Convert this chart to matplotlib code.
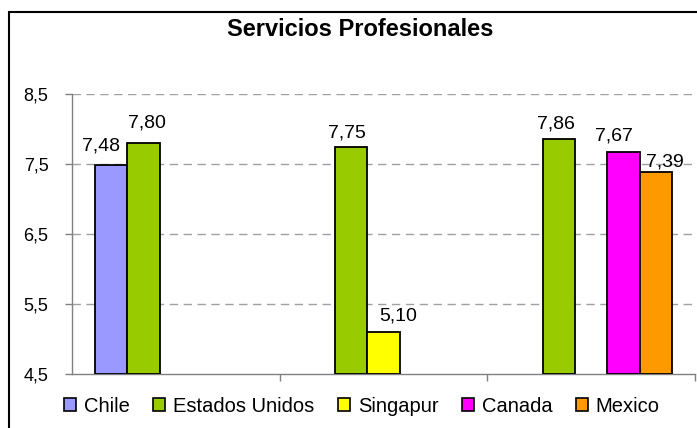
import numpy as np
import matplotlib
matplotlib.use('Agg')
import matplotlib.pyplot as plt
from matplotlib.patches import Patch, Rectangle

plt.rcParams['font.family'] = ['Liberation Sans', 'DejaVu Sans']

# data (NaN = no bar)
countries = ['Chile', 'Estados Unidos', 'Singapur', 'Canada', 'Mexico']
colors = ['#9999FF', '#99CC00', '#FFFF00', '#FF00FF', '#FF9900']
chile = [7.48, np.nan, np.nan]
estados_unidos = [7.80, 7.75, 7.86]
singapur = [np.nan, 5.10, np.nan]
canada = [np.nan, np.nan, 7.67]
mexico = [np.nan, np.nan, 7.39]
series = [chile, estados_unidos, singapur, canada, mexico]
yticks = [4.5, 5.5, 6.5, 7.5, 8.5]

# label nudges in pixels (series, group) -> (dx, dy), like Excel's placement
label_nudge = {(0, 0): (-10, 15), (1, 0): (4, 16), (1, 1): (-4, 9),
               (2, 1): (15, 12), (1, 2): (-3, 10), (3, 2): (-10, 12),
               (4, 2): (9, 5)}

W, H = 697, 428
fig = plt.figure(figsize=(W / 100, H / 100), dpi=100)
ax = fig.add_axes([72 / W, 1 - 374 / H, (695 - 72) / W, (374 - 94) / H])

# outer chart border
fig.patches.append(Rectangle((9 / W, -0.1), 1.2, 1 - 12 / H + 0.1,
                             transform=fig.transFigure, fill=False,
                             edgecolor='black', linewidth=1.5))

x = np.arange(3)
w = 0.156
for i, (vals, c) in enumerate(zip(series, colors)):
    pos = x + (i - 2) * w
    for g, (p, v) in enumerate(zip(pos, vals)):
        if np.isnan(v):
            continue
        ax.bar(p, v - 4.5, bottom=4.5, width=w, color=c, edgecolor='black',
               linewidth=1.3, zorder=3)
        dx, dy = label_nudge.get((i, g), (0, 10))
        ax.annotate(f'{v:.2f}'.replace('.', ','), (p, v), xytext=(dx * 0.72, dy * 0.72),
                    textcoords='offset points', ha='center', va='baseline',
                    fontsize=14)

ax.set_xlim(-0.5, 2.5)
ax.set_ylim(4.5, 8.5)
ax.set_yticks(yticks)
ax.set_yticklabels([str(t).replace('.', ',') for t in yticks], fontsize=13)
ax.set_xticks([0.5, 1.5, 2.5])
ax.set_xticklabels([])
ax.tick_params(axis='both', direction='out', length=5, color='#808080', width=1)
ax.tick_params(axis='y', pad=12)

for s in ['top', 'right']:
    ax.spines[s].set_visible(False)
for s in ['left', 'bottom']:
    ax.spines[s].set_color('#808080')
    ax.spines[s].set_linewidth(1)

for t in yticks[1:]:
    ax.axhline(t, color='#A0A0A0', linestyle=(0, (6, 4)), linewidth=1, zorder=1)

fig.text(360 / W, 1 - 30 / H, 'Servicios Profesionales', ha='center', va='center',
         fontsize=17, fontweight='bold')

handles = [Patch(facecolor=c, edgecolor='black', linewidth=1.2) for c in colors]
fig.legend(handles, countries, loc='center', bbox_to_anchor=(362 / W, 1 - 406 / H),
           ncol=5, frameon=False, fontsize=14.5, handlelength=0.6, handleheight=0.6,
           handletextpad=0.4, columnspacing=1.15)

fig.savefig('out.png', dpi=100)
